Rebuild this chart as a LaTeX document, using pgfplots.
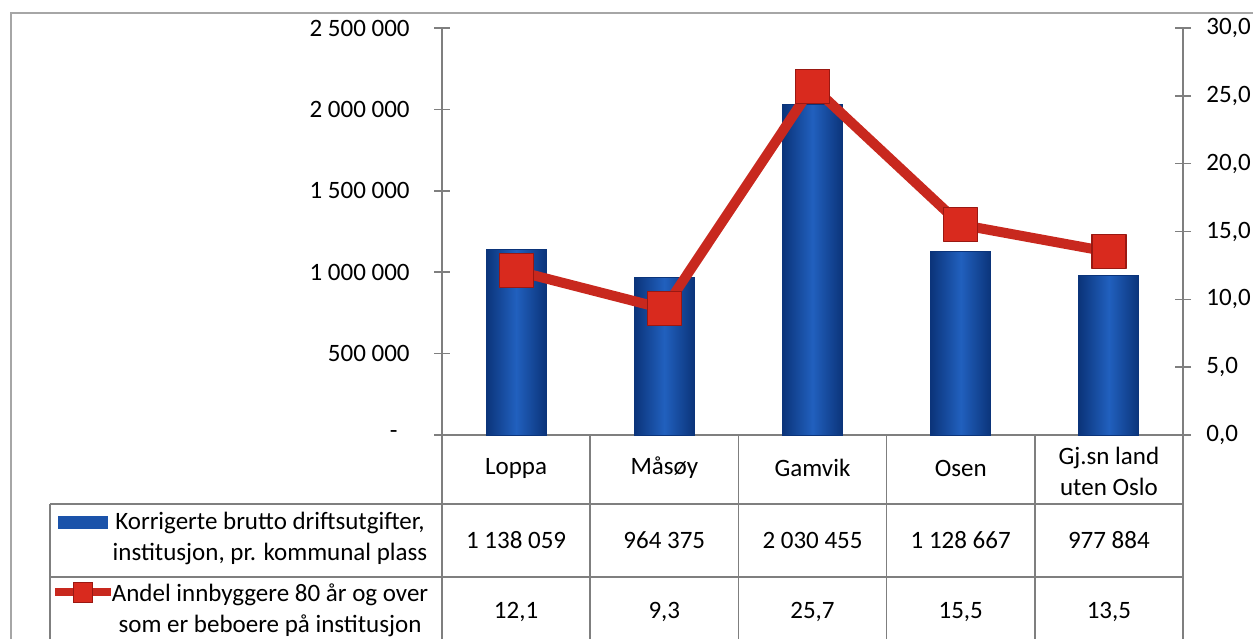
\documentclass[border=0pt]{standalone}
\usepackage{fontspec}
\setmainfont{Carlito}
\usepackage{pgfplots}
\pgfplotsset{compat=1.18}
\definecolor{bardark}{HTML}{0B347A}
\definecolor{barlight}{HTML}{2160BE}
\definecolor{linered}{HTML}{C8281E}
\definecolor{markred}{HTML}{D92A1E}
\definecolor{markdark}{HTML}{9A1812}
\definecolor{axgray}{HTML}{7F7F7F}
\definecolor{framegray}{HTML}{A6A6A6}
\pgfplotsset{barstyle/.style={ybar, bar width=30pt, bar shift=0pt, draw=bardark, line width=0.5pt,
  left color=bardark, right color=bardark, middle color=barlight}}
\begin{document}
\begin{tikzpicture}[font=\fontsize{12.5}{15.5}\selectfont]
\useasboundingbox (0,0) rectangle (626.5pt,319pt);
\clip (0,0) rectangle (626.5pt,319pt);
% outer frame
\draw[framegray, line width=0.8pt] (5.5pt,-10pt) -- (5.5pt,312.5pt) -- (640pt,312.5pt);
% bars, left axis
\begin{axis}[
  at={(221pt,101.5pt)}, anchor=south west,
  scale only axis, width=370.5pt, height=203.5pt,
  xmin=-0.5, xmax=4.5, ymin=0, ymax=2500000,
  clip=false, scaled y ticks=false,
  axis x line*=bottom, axis y line*=left,
  axis line style={-, draw=axgray, line width=0.8pt},
  xtick=\empty,
  ytick={0,500000,1000000,1500000,2000000,2500000},
  yticklabels={-\rule{6pt}{0pt},500 000,1 000 000,1 500 000,2 000 000,2 500 000},
  tick align=center, major tick length=8pt,
  tick style={draw=axgray, line width=0.8pt},
  tick label style={font=\fontsize{12.5}{15}\selectfont},
  yticklabel style={inner sep=0pt, xshift=-12pt},
]
\addplot[barstyle] coordinates {(0,1138059)};
\addplot[barstyle] coordinates {(1,964375)};
\addplot[barstyle] coordinates {(2,2030455)};
\addplot[barstyle] coordinates {(3,1128667)};
\addplot[barstyle] coordinates {(4,977884)};
\end{axis}
% line, right axis
\begin{axis}[
  at={(221pt,101.5pt)}, anchor=south west,
  scale only axis, width=370.5pt, height=203.5pt,
  xmin=-0.5, xmax=4.5, ymin=0, ymax=30,
  clip=false,
  axis x line=none, axis y line*=right,
  axis line style={-, draw=axgray, line width=0.8pt},
  xtick=\empty,
  ytick={0,5,...,30},
  tick align=center, major tick length=8pt,
  tick style={draw=axgray, line width=0.8pt},
  tick label style={font=\fontsize{12.5}{15}\selectfont},
  yticklabel style={inner sep=0pt, xshift=7.5pt,
    /pgf/number format/.cd, fixed, fixed zerofill, precision=1, use comma, assume math mode=true},
]
\addplot[linered, line width=5pt, line join=round, mark=square*, mark size=8.5pt,
  mark options={fill=markred, draw=markdark, line width=0.6pt}]
  coordinates {(0,12.1) (1,9.3) (2,25.7) (3,15.5) (4,13.5)};
\end{axis}
% data table
\begin{scope}[axgray, line width=0.8pt]
  \draw (25pt,67pt) -- (591.5pt,67pt);
  \draw (25pt,30.5pt) -- (591.5pt,30.5pt);
  \draw (25pt,67pt) -- (25pt,-10pt);
  \foreach \x in {221,295.1,369.2,443.3,517.4,591.5} \draw (\x pt,101.5pt) -- (\x pt,-10pt);
\end{scope}
\foreach \x/\t in {258.05/Loppa,332.15/Måsøy,406.25/Gamvik,480.35/Osen}
  \node at (\x pt,85pt) {\t};
\node[align=center] at (554.45pt,83.5pt) {Gj.sn land\\uten Oslo};
\foreach \x/\t in {258.05/1 138 059,332.15/964 375,406.25/2 030 455,480.35/1 128 667,554.45/977 884}
  \node at (\x pt,49pt) {\t};
\foreach \x/\t in {258.05/{12,1},332.15/{9,3},406.25/{25,7},480.35/{15,5},554.45/{13,5}}
  \node at (\x pt,13pt) {\t};
\node[align=center] at (135pt,50pt) {Korrigerte brutto driftsutgifter,\\institusjon, pr. kommunal plass};
\node[align=center] at (135pt,14pt) {Andel innbyggere 80 år og over\\som er beboere på institusjon};
% legend keys
\fill[barlight!70!bardark] (29pt,54.5pt) rectangle (54pt,61pt);
\draw[linered, line width=4pt] (27.5pt,23pt) -- (55.5pt,23pt);
\filldraw[fill=markred, draw=markdark, line width=0.5pt] (36.5pt,18pt) rectangle (46pt,28pt);
\end{tikzpicture}
\end{document}
